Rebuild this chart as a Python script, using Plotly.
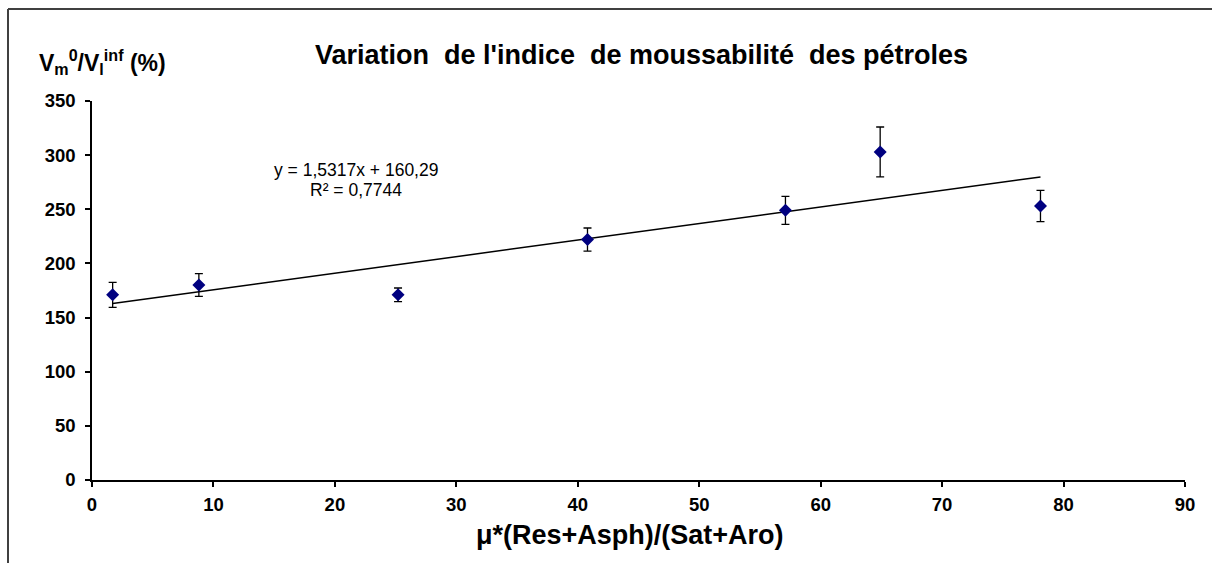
import plotly.graph_objects as go

# Measured points: viscosity-weighted (Res+Asph)/(Sat+Aro) ratio vs. foamability index
x_ratio = [1.7, 8.8, 25.2, 40.8, 57.1, 64.9, 78.1]
foam_index = [171, 180, 171, 222, 249, 303, 253]
foam_err = [11.5, 10.5, 6.3, 10.7, 13.0, 23.0, 14.4]

# Linear trend reported on the chart
slope = 1.5317
intercept = 160.29
r2 = 0.7744

x_ticks = [0, 10, 20, 30, 40, 50, 60, 70, 80, 90]
y_ticks = [0, 50, 100, 150, 200, 250, 300, 350]

FONT = "Liberation Sans, Arial, sans-serif"
W, H = 1212, 563
L, R, T, B = 92, 27, 101, 83

trend_x = [min(x_ratio), max(x_ratio)]
trend_y = [slope * v + intercept for v in trend_x]

fig = go.Figure()
fig.add_trace(go.Scatter(
    x=trend_x, y=trend_y, mode="lines",
    line=dict(color="black", width=1.5), hoverinfo="skip", showlegend=False,
))
fig.add_trace(go.Scatter(
    x=x_ratio, y=foam_index, mode="markers",
    marker=dict(symbol="diamond", size=10, color="#000080"),
    error_y=dict(type="data", array=foam_err, visible=True,
                 color="black", thickness=1.3, width=4),
    showlegend=False,
))

axis_font = dict(family=FONT, size=18.5, color="black", weight="bold")
fig.update_xaxes(
    range=[0, 90], tickvals=x_ticks, showgrid=False, zeroline=False,
    showline=True, linecolor="black", linewidth=1.5,
    ticks="outside", ticklen=5, tickwidth=1.5, tickcolor="black",
    tickfont=axis_font, ticklabelstandoff=2,
)
fig.update_yaxes(
    range=[0, 350], tickvals=y_ticks, showgrid=False, zeroline=False,
    showline=True, linecolor="black", linewidth=1.5,
    ticks="outside", ticklen=5, tickwidth=1.5, tickcolor="black",
    tickfont=axis_font, ticklabelstandoff=6,
)

pw, ph = W - L - R, H - T - B


def px(xp):
    return (xp - L) / pw


def py(yp):
    return (H - B - yp) / ph


annotations = [
    dict(text="Variation  de l'indice  de moussabilité  des pétroles",
         x=px(641), y=py(55), xanchor="center", yanchor="middle",
         font=dict(family=FONT, size=27, color="black", weight="bold")),
    dict(text="V<sub>m</sub><sup>0</sup>/V<sub>l</sub><sup>inf</sup> (%)",
         x=px(37), y=py(62), xanchor="left", yanchor="middle",
         font=dict(family=FONT, size=23, color="black", weight="bold")),
    dict(text="μ*(Res+Asph)/(Sat+Aro)",
         x=px(630), y=py(535), xanchor="center", yanchor="middle",
         font=dict(family=FONT, size=27, color="black", weight="bold")),
    dict(text=f"y = {slope:.4f}x + {intercept:.2f}".replace(".", ","),
         x=px(356), y=py(170), xanchor="center", yanchor="middle",
         font=dict(family=FONT, size=17.5, color="black")),
    dict(text=f"R² = {r2:.4f}".replace(".", ","),
         x=px(356), y=py(190), xanchor="center", yanchor="middle",
         font=dict(family=FONT, size=17.5, color="black")),
]
for a in annotations:
    a.update(xref="paper", yref="paper", showarrow=False)

# Chart-area frame (left and top edges)
shapes = [
    dict(type="line", xref="paper", yref="paper",
         x0=px(8), y0=py(9), x1=px(8), y1=py(H + 5),
         line=dict(color="#404040", width=2)),
    dict(type="line", xref="paper", yref="paper",
         x0=px(8), y0=py(9), x1=px(W + 5), y1=py(9),
         line=dict(color="#404040", width=2)),
]

fig.update_layout(
    width=W, height=H,
    margin=dict(l=L, r=R, t=T, b=B),
    paper_bgcolor="white", plot_bgcolor="white",
    annotations=annotations, shapes=shapes,
    font=dict(family=FONT),
)

fig.write_html("out.html")
